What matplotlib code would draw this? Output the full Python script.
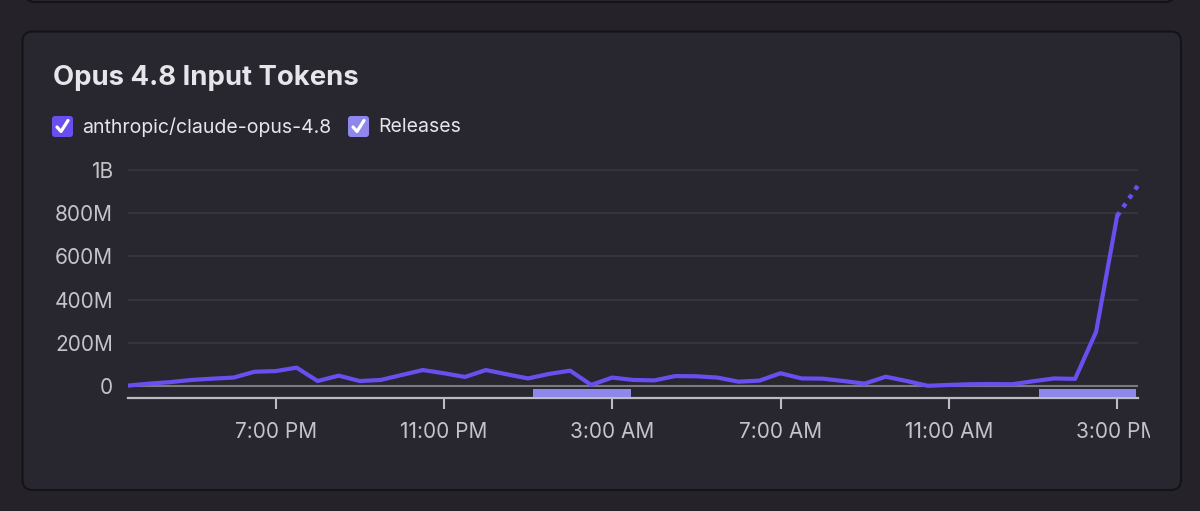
import numpy as np
import pandas as pd
import matplotlib
matplotlib.use("Agg")
import matplotlib.pyplot as plt
import matplotlib.dates as mdates
from matplotlib.patches import FancyBboxPatch, Rectangle
from matplotlib.transforms import Bbox

plt.rcParams["font.family"] = ["Inter", "DejaVu Sans"]

###############################################################################
# Data: input tokens (millions), every 30 min from 3:30 PM to 3:00 PM
times = pd.date_range("2025-01-01 15:30", periods=48, freq="30min")
tokens_m = [2, 11, 18, 28, 34, 39, 66, 69, 85, 23, 48, 23,
            28, 51, 74, 59, 42, 74, 54, 35, 56, 71, 5, 39,
            28, 26, 46, 45, 39, 20, 25, 59, 35, 34, 23, 11,
            43, 23, 1, 5, 8, 9, 8, 22, 35, 33, 251, 787]
# partial last bucket (dotted)
partial_time = pd.Timestamp("2025-01-02 15:30")
partial_m = 930

release_starts = [pd.Timestamp("2025-01-02 01:07"), pd.Timestamp("2025-01-02 13:08")]
release_ends = [pd.Timestamp("2025-01-02 03:27"), pd.Timestamp("2025-01-02 15:27")]

yticks_m = [0, 200, 400, 600, 800, 1000]
ytick_labels = ["0", "200M", "400M", "600M", "800M", "1B"]
xtick_hours = [pd.Timestamp("2025-01-01 19:00"), pd.Timestamp("2025-01-01 23:00"),
               pd.Timestamp("2025-01-02 03:00"), pd.Timestamp("2025-01-02 07:00"),
               pd.Timestamp("2025-01-02 11:00"), pd.Timestamp("2025-01-02 15:00")]
xtick_labels = ["7:00 PM", "11:00 PM", "3:00 AM", "7:00 AM", "11:00 AM", "3:00 PM"]

###############################################################################
W, H = 1200, 511
bg_outer = "#252329"
bg_card = "#28262f"
line_col = "#6a4ff0"
release_col = "#8f88ec"
text_col = "#e6e5ea"
tick_col = "#c4c3c9"

fig = plt.figure(figsize=(W / 100, H / 100), dpi=100)
fig.patch.set_facecolor(bg_outer)

bg = fig.add_axes([0, 0, 1, 1])
bg.set_xlim(0, W)
bg.set_ylim(H, 0)
bg.axis("off")

# previous card (bottom edge visible)
bg.add_patch(FancyBboxPatch((25, -60), 1150, 62, boxstyle="round,pad=0,rounding_size=10",
                            facecolor=bg_card, edgecolor="#141318", lw=1.5))
# this card
bg.add_patch(FancyBboxPatch((22.5, 31.5), 1158.5, 458.5, boxstyle="round,pad=0,rounding_size=10",
                            facecolor=bg_card, edgecolor="#141318", lw=1.5))

bg.text(53, 78, "Opus 4.8 Input Tokens", color=text_col, fontsize=19.8,
        fontweight="bold", va="center", ha="left")

# legend
legend_items = [("anthropic/claude-opus-4.8", line_col, 52), ("Releases", release_col, 348)]
for label, col, x0 in legend_items:
    bg.add_patch(FancyBboxPatch((x0, 116), 21, 21, boxstyle="round,pad=0,rounding_size=3",
                                facecolor=col, edgecolor="none"))
    bg.plot([x0 + 5, x0 + 9, x0 + 16], [127, 131.5, 120.5], color="white", lw=2.3,
            solid_capstyle="round", solid_joinstyle="round")
    bg.text(x0 + 30, 127, label, color=text_col, fontsize=14, va="center", ha="left")

###############################################################################
# main chart
px_per_m = 43.2 / 200
y_bottom = -12 / px_per_m
y_top = 1000 + 5 / px_per_m
ax_left, ax_right, ax_top, ax_bot = 128.3, 1138.2, 165, 398
ax = fig.add_axes([ax_left / W, (H - ax_bot) / H, (ax_right - ax_left) / W, (ax_bot - ax_top) / H])
ax.set_facecolor("none")
ax.set_xlim(times[0], partial_time)
ax.set_ylim(y_bottom, y_top)

for yv in yticks_m[1:]:
    ax.axhline(yv, color="#38363f", lw=1.2, zorder=1)
ax.axhline(0, color="#7a7880", lw=1.5, zorder=2)

ax.plot(times, tokens_m, color=line_col, lw=3, zorder=4, solid_joinstyle="round")
ax.plot([times[-1], partial_time], [tokens_m[-1], partial_m], color=line_col, lw=3.2,
        linestyle=(0, (1, 1.4)), zorder=4, clip_on=False)

for s, e in zip(release_starts, release_ends):
    s_num, e_num = mdates.date2num(s), mdates.date2num(e)
    ax.add_patch(Rectangle((s_num, -14), e_num - s_num, -37, facecolor=release_col,
                           edgecolor="none", zorder=3))

for side in ["top", "right", "left"]:
    ax.spines[side].set_visible(False)
ax.spines["bottom"].set_color("#bdbcc2")
ax.spines["bottom"].set_linewidth(1.6)

ax.set_yticks(yticks_m, ytick_labels)
ax.set_xticks(mdates.date2num(xtick_hours), xtick_labels)
ax.tick_params(axis="y", length=0, pad=11, labelsize=15, labelcolor=tick_col)
ax.tick_params(axis="x", length=8, width=1.5, color="#bdbcc2", pad=9, labelsize=15,
               labelcolor=tick_col)

# last x label is cut off at the card's plot edge
clip = Bbox([[0, 0], [1150, H]])
for tick in ax.xaxis.get_major_ticks():
    tick.label1.set_clip_on(True)
    tick.label1.set_clip_box(clip)

fig.savefig("out.png", dpi=100, facecolor=fig.get_facecolor())
